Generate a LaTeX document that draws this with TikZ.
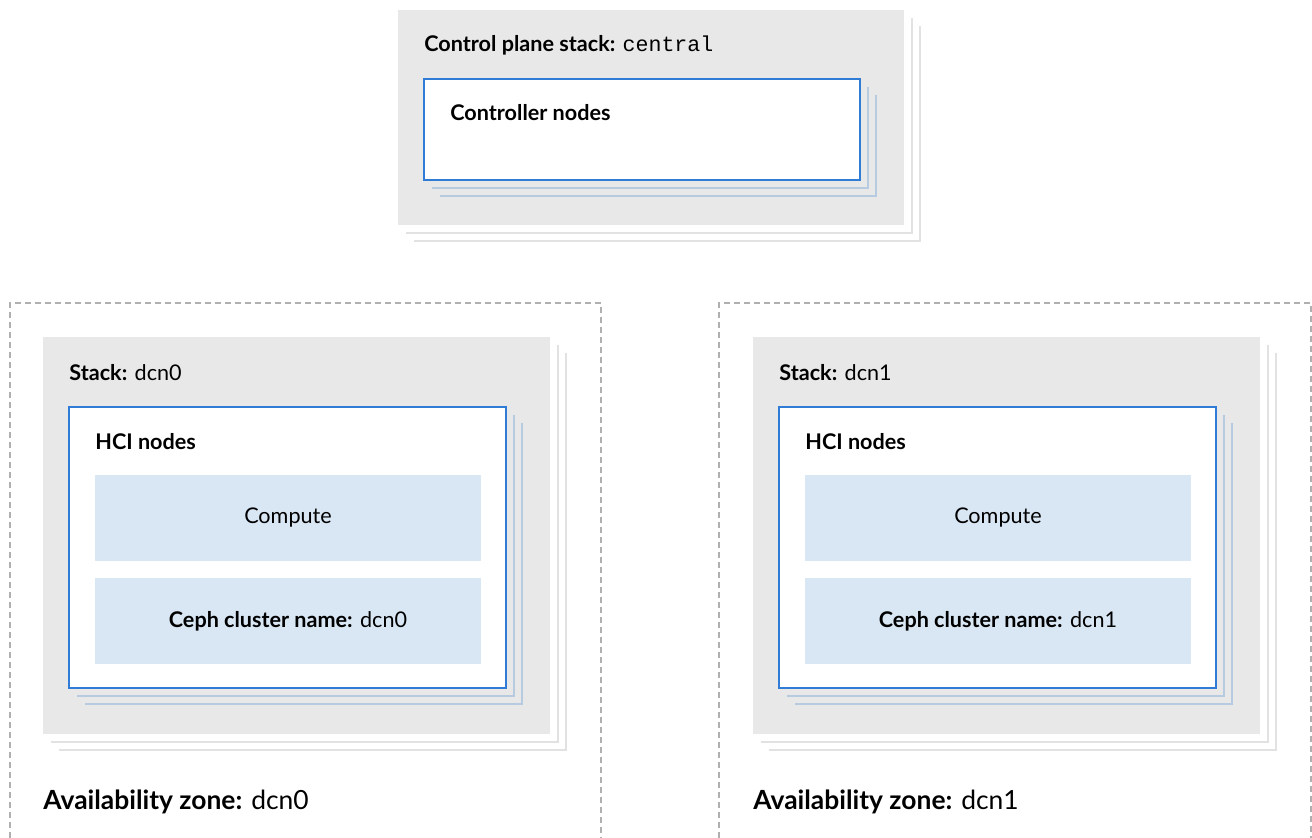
\documentclass[tikz,border=0pt]{standalone}
\usepackage{fontspec}
\setmainfont{Lato}
\setmonofont{Liberation Mono}

\definecolor{stackgray}{HTML}{E8E8E8}
\definecolor{shadowgray}{HTML}{E2E2E2}
\definecolor{zonegray}{HTML}{B0B0B0}
\definecolor{nodeblue}{HTML}{2F7BD6}
\definecolor{shadowblue}{HTML}{B6CAE0}
\definecolor{roleblue}{HTML}{D9E7F5}

\tikzset{
  zonebox/.style={draw=zonegray, line width=0.7pt, dash pattern=on 3pt off 2pt},
  stackbox/.style={fill=stackgray},
  stackshadow/.style={draw=shadowgray, line width=1.1pt},
  nodesbox/.style={draw=nodeblue, fill=white, line width=1pt},
  nodeshadow/.style={draw=shadowblue, line width=1.1pt},
  rolebox/.style={fill=roleblue},
  boxtitle/.style={anchor=base west, inner sep=0pt, font=\fontsize{10.8}{13}\selectfont},
  roletext/.style={inner sep=0pt, font=\fontsize{10.8}{13}\selectfont},
  zonetitle/.style={anchor=base west, inner sep=0pt, font=\fontsize{13.2}{16}\selectfont}
}

\begin{document}
\begin{tikzpicture}[x=0.5pt, y=-0.5pt]
    \useasboundingbox (0,0) rectangle (1312,838);

    % Control plane stack
    \draw[stackshadow] (920,26) -- (920,241) -- (414,241);
    \draw[stackshadow] (912,18) -- (912,233) -- (406,233);
    \fill[stackbox] (398,10) rectangle (904,225);
    \node[boxtitle] (central) at (424,52) {\textbf{Control plane stack:} \texttt{central}};

    % Controller nodes
    \draw[nodeshadow] (876,95) -- (876,196) -- (440,196);
    \draw[nodeshadow] (868,87) -- (868,188) -- (432,188);
    \draw[nodesbox] (424,79) rectangle (860,180);
    \node[boxtitle] (controllers) at (450,121) {\textbf{Controller nodes}};

    % Availability zone dcn0
    \begin{scope}[shift={(0,0)}]
        \draw[zonebox] (10,838) -- (10,303) -- (601,303) -- (601,838);

        % Stack
        \draw[stackshadow] (566,353) -- (566,750) -- (59,750);
        \draw[stackshadow] (558,345) -- (558,742) -- (51,742);
        \fill[stackbox] (43,337) rectangle (550,734);
        \node[boxtitle] (stackA) at (69,381) {\textbf{Stack:} dcn0};

        % HCI nodes
        \draw[nodeshadow] (522,423) -- (522,704) -- (85,704);
        \draw[nodeshadow] (514,415) -- (514,696) -- (77,696);
        \draw[nodesbox] (69,407) rectangle (506,688);
        \node[boxtitle] (hciA) at (95,450) {\textbf{HCI nodes}};

        \fill[rolebox] (95,475) rectangle (481,561);
        \node[roletext] (computeA) at (288,518) {Compute};
        \fill[rolebox] (95,578) rectangle (481,664);
        \node[roletext] (cephA) at (288,621) {\textbf{Ceph cluster name:} dcn0};

        \node[zonetitle] (zoneA) at (43,810) {\textbf{Availability zone:} dcn0};
    \end{scope}

    % Availability zone dcn1
    \begin{scope}[shift={(710,0)}]
        \draw[zonebox] (9,838) -- (9,303) -- (601,303) -- (601,838);

        % Stack
        \draw[stackshadow] (566,353) -- (566,750) -- (59,750);
        \draw[stackshadow] (558,345) -- (558,742) -- (51,742);
        \fill[stackbox] (43,337) rectangle (550,734);
        \node[boxtitle] (stackB) at (69,381) {\textbf{Stack:} dcn1};

        % HCI nodes
        \draw[nodeshadow] (522,423) -- (522,704) -- (85,704);
        \draw[nodeshadow] (514,415) -- (514,696) -- (77,696);
        \draw[nodesbox] (69,407) rectangle (506,688);
        \node[boxtitle] (hciB) at (95,450) {\textbf{HCI nodes}};

        \fill[rolebox] (95,475) rectangle (481,561);
        \node[roletext] (computeB) at (288,518) {Compute};
        \fill[rolebox] (95,578) rectangle (481,664);
        \node[roletext] (cephB) at (288,621) {\textbf{Ceph cluster name:} dcn1};

        \node[zonetitle] (zoneB) at (43,810) {\textbf{Availability zone:} dcn1};
    \end{scope}

\end{tikzpicture}
\end{document}
